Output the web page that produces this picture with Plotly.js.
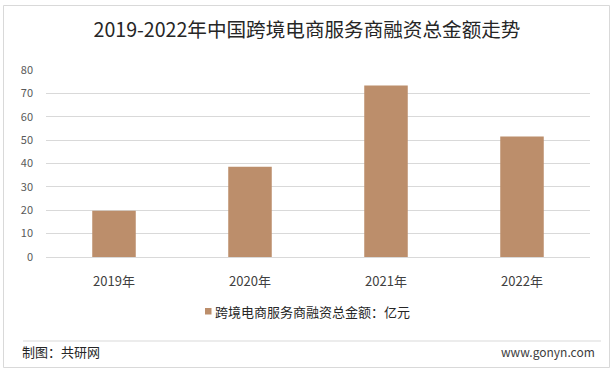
<!DOCTYPE html>
<html>
<head>
<meta charset="utf-8">
<script src="https://cdn.plot.ly/plotly-3.0.1.min.js"></script>
<style>html,body{margin:0;padding:0;background:#fff;}#chart{width:614px;height:373px;}</style>
</head>
<body>
<div id="chart"></div>
<script>
const categories = ["2019年", "2020年", "2021年", "2022年"];
const values = [19.8, 38.6, 73.4, 51.5];
const seriesName = "跨境电商服务商融资总金额：亿元";
const titleText = "2019-2022年中国跨境电商服务商融资总金额走势";
const sourceText = "制图：共研网";
const siteText = "www.gonyn.com";
const barColor = "#BC8E6B";

const W = 614, H = 373;
const M = {l: 46, r: 24, t: 70, b: 116};
const pw = W - M.l - M.r, ph = H - M.t - M.b;
const px = x => (x - M.l) / pw;
const py = y => (H - M.b - y) / ph;

const font = "'Noto Sans CJK SC', 'Noto Sans', sans-serif";

const data = [{
  type: "bar",
  x: categories,
  y: values,
  name: seriesName,
  marker: {color: barColor},
  width: 0.32,
  showlegend: false
}];

const layout = {
  width: W, height: H,
  margin: M,
  paper_bgcolor: "#fff",
  plot_bgcolor: "#fff",
  font: {family: font, color: "#404040"},
  title: {text: titleText, font: {size: 19.6, color: "#262626", family: font}, x: 0.5, xanchor: "center", y: 1 - 30 / H, yanchor: "middle"},
  xaxis: {
    type: "category",
    tickfont: {size: 13, color: "#404040"},
    showgrid: false, showline: false, zeroline: false,
    ticks: "", ticklabelstandoff: 15
  },
  yaxis: {
    range: [0, 80], dtick: 10,
    tickfont: {size: 11, color: "#595959"},
    showgrid: true, gridcolor: "#d9d9d9", gridwidth: 1,
    zeroline: true, zerolinecolor: "#d9d9d9", showline: false,
    ticks: "", ticklabelstandoff: 12
  },
  showlegend: false,
  shapes: [
    {type: "rect", xref: "paper", yref: "paper", x0: px(3.5), x1: px(609.5), y0: py(5.5), y1: py(367.5),
     line: {color: "#d9d9d9", width: 1}, fillcolor: "rgba(0,0,0,0)", layer: "below"},
    {type: "line", xref: "paper", yref: "paper", x0: px(23), x1: px(601), y0: py(341), y1: py(341),
     line: {color: "#d9d9d9", width: 1}},
    {type: "rect", xref: "paper", yref: "paper", x0: px(205), x1: px(211.5), y0: py(308), y1: py(314.5),
     line: {width: 0}, fillcolor: barColor}
  ],
  annotations: [
    {text: seriesName, xref: "paper", yref: "paper", x: px(213), y: py(311), xanchor: "left", yanchor: "middle",
     showarrow: false, font: {size: 13, color: "#262626"}},
    {text: sourceText, xref: "paper", yref: "paper", x: px(20), y: py(351), xanchor: "left", yanchor: "middle",
     showarrow: false, font: {size: 13, color: "#262626"}},
    {text: siteText, xref: "paper", yref: "paper", x: px(597), y: py(351), xanchor: "right", yanchor: "middle",
     showarrow: false, font: {size: 12, color: "#404040"}}
  ]
};

Plotly.newPlot("chart", data, layout, {displayModeBar: false, staticPlot: true});
</script>
</body>
</html>
